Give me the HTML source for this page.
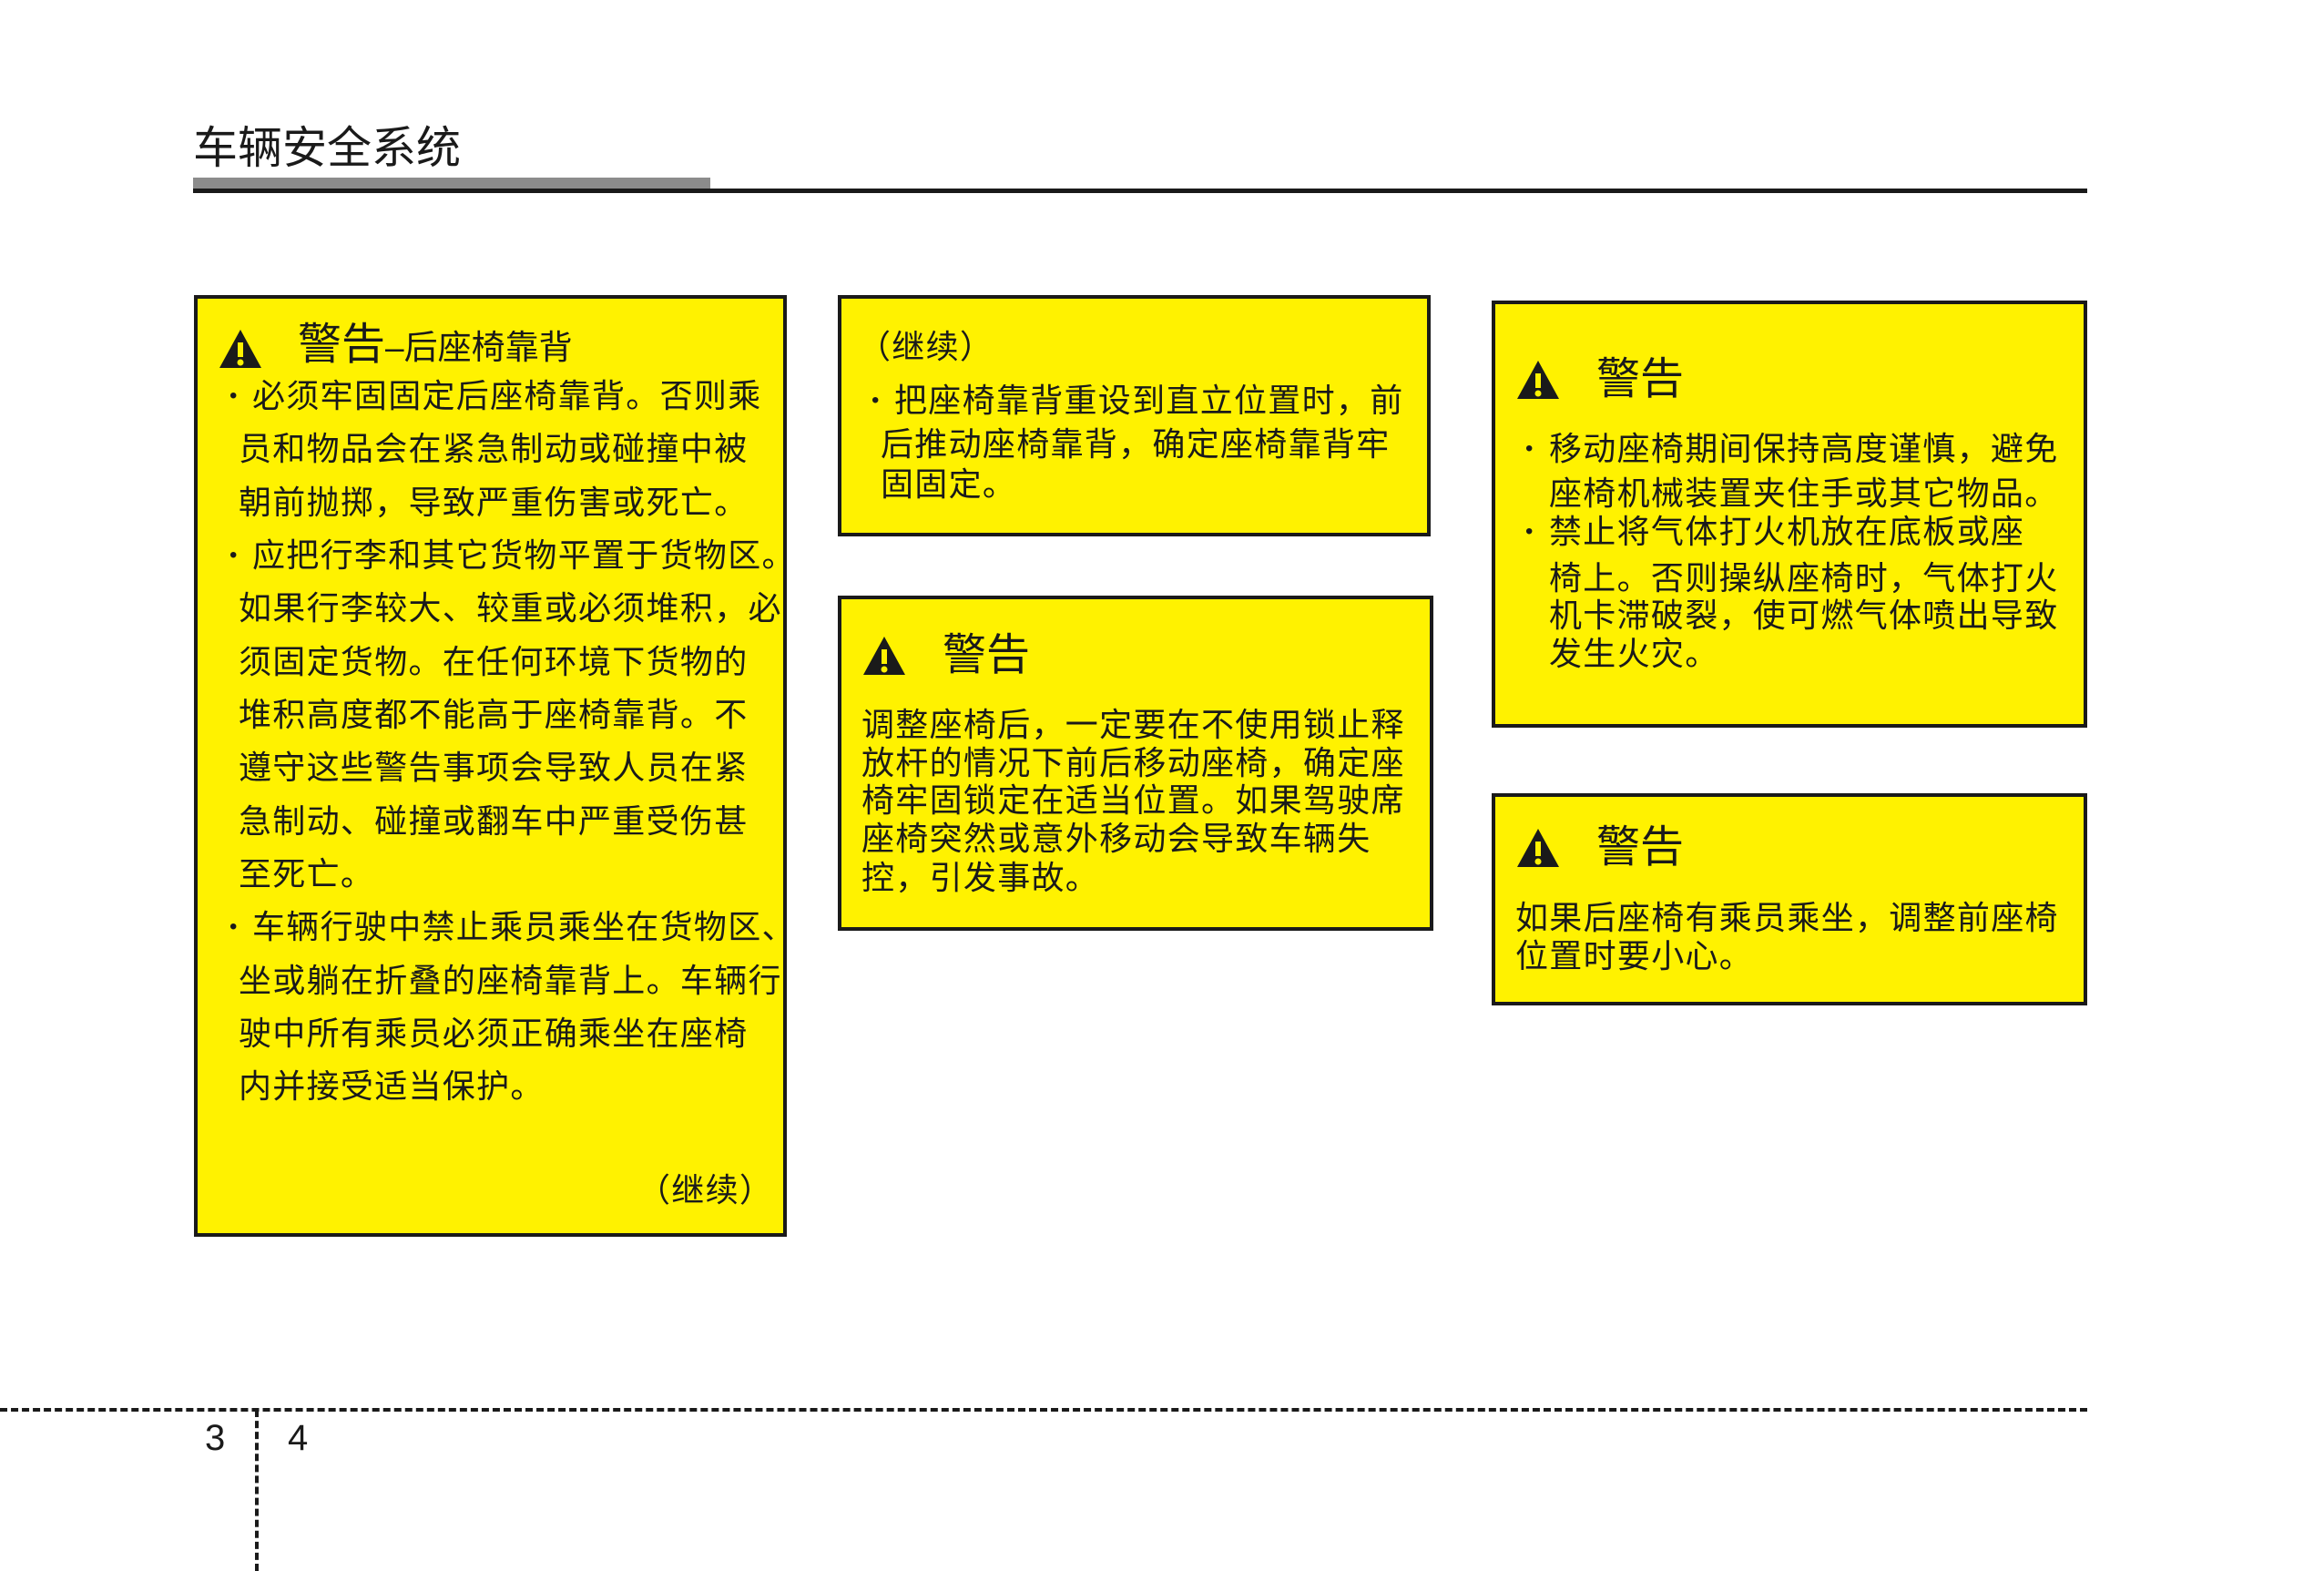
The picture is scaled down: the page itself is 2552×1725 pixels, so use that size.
<!DOCTYPE html>
<html><head><meta charset="utf-8"><style>
body{margin:0;width:2552px;height:1725px;background:#fff;position:relative;overflow:hidden;font-family:"Liberation Sans","Noto Sans CJK SC",sans-serif;color:#1a1a1a}
.a{position:absolute}
.box{position:absolute;background:#fff200;border:4px solid #1a1a1a;box-sizing:border-box}
.t{position:absolute;white-space:nowrap;font-size:36px;letter-spacing:1.3px;line-height:50px;font-family:"Liberation Sans","Noto Sans CJK SC",sans-serif}
.b{position:absolute;font-size:24px;line-height:50px}
.h{position:absolute;white-space:nowrap;font-size:48px;line-height:60px}
svg.w{position:absolute;width:50px;height:46px}
</style></head><body>
<div class="a" style="left:212px;top:133px;font-size:49px;line-height:60px;white-space:nowrap">车辆安全系统</div>
<div class="a" style="left:212px;top:195px;width:568px;height:12px;background:#8c8c8c"></div>
<div class="a" style="left:212px;top:207px;width:2080px;height:5px;background:#1a1a1a"></div>

<div class="box" style="left:213px;top:324px;width:651px;height:1034px"></div>
<div class="box" style="left:920px;top:324px;width:651px;height:265px"></div>
<div class="box" style="left:920px;top:654px;width:654px;height:368px"></div>
<div class="box" style="left:1638px;top:330px;width:654px;height:469px"></div>
<div class="box" style="left:1638px;top:871px;width:654px;height:233px"></div>

<svg class="w" style="left:239px;top:360px" viewBox="0 0 50 46"><polygon points="25,2 48,44 2,44" fill="#1a1a1a"/><rect x="22" y="16" width="6" height="16" fill="#fff200"/><circle cx="25" cy="38" r="3.5" fill="#fff200"/></svg>
<div class="h" style="left:327px;top:349px">警告<span style="font-size:37px">–后座椅靠背</span></div>
<div class="b" style="left:252px;top:410px">•</div>
<div class="t" style="left:277px;top:410px">必须牢固固定后座椅靠背。否则乘</div>
<div class="t" style="left:262px;top:468px">员和物品会在紧急制动或碰撞中被</div>
<div class="t" style="left:262px;top:527px">朝前抛掷，导致严重伤害或死亡。</div>
<div class="b" style="left:252px;top:585px">•</div>
<div class="t" style="left:277px;top:585px">应把行李和其它货物平置于货物区。</div>
<div class="t" style="left:262px;top:643px">如果行李较大、较重或必须堆积，必</div>
<div class="t" style="left:262px;top:702px">须固定货物。在任何环境下货物的</div>
<div class="t" style="left:262px;top:760px">堆积高度都不能高于座椅靠背。不</div>
<div class="t" style="left:262px;top:818px">遵守这些警告事项会导致人员在紧</div>
<div class="t" style="left:262px;top:877px">急制动、碰撞或翻车中严重受伤甚</div>
<div class="t" style="left:262px;top:935px">至死亡。</div>
<div class="b" style="left:252px;top:993px">•</div>
<div class="t" style="left:277px;top:993px">车辆行驶中禁止乘员乘坐在货物区、</div>
<div class="t" style="left:262px;top:1052px">坐或躺在折叠的座椅靠背上。车辆行</div>
<div class="t" style="left:262px;top:1110px">驶中所有乘员必须正确乘坐在座椅</div>
<div class="t" style="left:262px;top:1168px">内并接受适当保护。</div>
<div class="t" style="left:700px;top:1282px">（继续）</div>

<div class="t" style="left:942px;top:356px">（继续）</div>
<div class="b" style="left:957px;top:415px">•</div>
<div class="t" style="left:982px;top:415px">把座椅靠背重设到直立位置时，前</div>
<div class="t" style="left:967px;top:463px">后推动座椅靠背，确定座椅靠背牢</div>
<div class="t" style="left:967px;top:507px">固固定。</div>

<svg class="w" style="left:946px;top:697px" viewBox="0 0 50 46"><polygon points="25,2 48,44 2,44" fill="#1a1a1a"/><rect x="22" y="16" width="6" height="16" fill="#fff200"/><circle cx="25" cy="38" r="3.5" fill="#fff200"/></svg>
<div class="h" style="left:1035px;top:690px">警告</div>
<div class="t" style="left:946px;top:771px">调整座椅后，一定要在不使用锁止释</div>
<div class="t" style="left:946px;top:813px">放杆的情况下前后移动座椅，确定座</div>
<div class="t" style="left:946px;top:854px">椅牢固锁定在适当位置。如果驾驶席</div>
<div class="t" style="left:946px;top:896px">座椅突然或意外移动会导致车辆失</div>
<div class="t" style="left:946px;top:939px">控，引发事故。</div>

<svg class="w" style="left:1664px;top:394px" viewBox="0 0 50 46"><polygon points="25,2 48,44 2,44" fill="#1a1a1a"/><rect x="22" y="16" width="6" height="16" fill="#fff200"/><circle cx="25" cy="38" r="3.5" fill="#fff200"/></svg>
<div class="h" style="left:1753px;top:387px">警告</div>
<div class="b" style="left:1675px;top:468px">•</div>
<div class="t" style="left:1701px;top:468px">移动座椅期间保持高度谨慎，避免</div>
<div class="t" style="left:1701px;top:517px">座椅机械装置夹住手或其它物品。</div>
<div class="b" style="left:1675px;top:559px">•</div>
<div class="t" style="left:1701px;top:559px">禁止将气体打火机放在底板或座</div>
<div class="t" style="left:1701px;top:610px">椅上。否则操纵座椅时，气体打火</div>
<div class="t" style="left:1701px;top:651px">机卡滞破裂，使可燃气体喷出导致</div>
<div class="t" style="left:1701px;top:693px">发生火灾。</div>

<svg class="w" style="left:1664px;top:908px" viewBox="0 0 50 46"><polygon points="25,2 48,44 2,44" fill="#1a1a1a"/><rect x="22" y="16" width="6" height="16" fill="#fff200"/><circle cx="25" cy="38" r="3.5" fill="#fff200"/></svg>
<div class="h" style="left:1753px;top:901px">警告</div>
<div class="t" style="left:1664px;top:983px">如果后座椅有乘员乘坐，调整前座椅</div>
<div class="t" style="left:1664px;top:1025px">位置时要小心。</div>

<div class="a" style="left:0;top:1546px;width:2292px;height:0;border-top:4px dashed #1a1a1a"></div>
<div class="a" style="left:280px;top:1548px;width:0;height:177px;border-left:4px dashed #1a1a1a"></div>
<div class="a" style="left:225px;top:1554px;font-size:40px;line-height:50px">3</div>
<div class="a" style="left:316px;top:1554px;font-size:40px;line-height:50px">4</div>
</body></html>
